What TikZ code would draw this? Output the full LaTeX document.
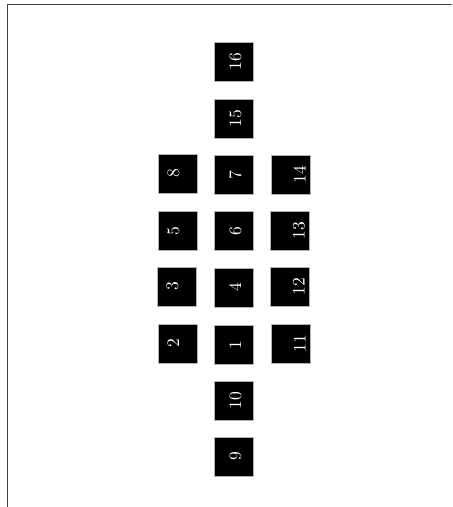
\documentclass[tikz,border=0pt]{standalone}
\usepackage{tikz}
\usetikzlibrary{positioning}

\begin{document}
\begin{tikzpicture}[x=1cm,y=1cm,
		tile/.style={draw=gray!60,line width=0.3pt,fill=black,text=white,minimum size=7.8mm,inner sep=0pt,rotate=90},
		lefttxt/.style={tile,text height=2.27mm,text depth=1.6mm},
		midtxt/.style={tile,text height=3.07mm,text depth=0pt},
		righttxt/.style={tile,text height=5.87mm,text depth=0pt}]
		\useasboundingbox (0,0) rectangle (9.04,10.14);
		\draw[line width=0.6pt,black!75] (0.15,0) -- (0.15,10.05) -- (9.04,10.05);
		% middle column
		\node[midtxt] (t16) at (4.67,8.91) {16};
		\node[midtxt] (t15) at (4.67,7.77) {15};
		\node[midtxt] (t7)  at (4.67,6.64) {7};
		\node[midtxt] (t6)  at (4.67,5.52) {6};
		\node[midtxt] (t4)  at (4.67,4.39) {4};
		\node[midtxt] (t1)  at (4.67,3.24) {1};
		\node[midtxt] (t10) at (4.67,2.12) {10};
		\node[midtxt] (t9)  at (4.67,1.01) {9};
		% left column
		\node[lefttxt] (t8)  at (3.55,6.67) {8};
		\node[lefttxt] (t5)  at (3.55,5.52) {5};
		\node[lefttxt] (t3)  at (3.53,4.41) {3};
		\node[lefttxt] (t2)  at (3.55,3.27) {2};
		% right column
		\node[righttxt] (t14) at (5.82,6.64) {14};
		\node[righttxt] (t13) at (5.80,5.53) {13};
		\node[righttxt] (t12) at (5.80,4.41) {12};
		\node[righttxt] (t11) at (5.82,3.27) {11};
	\end{tikzpicture}
\end{document}
